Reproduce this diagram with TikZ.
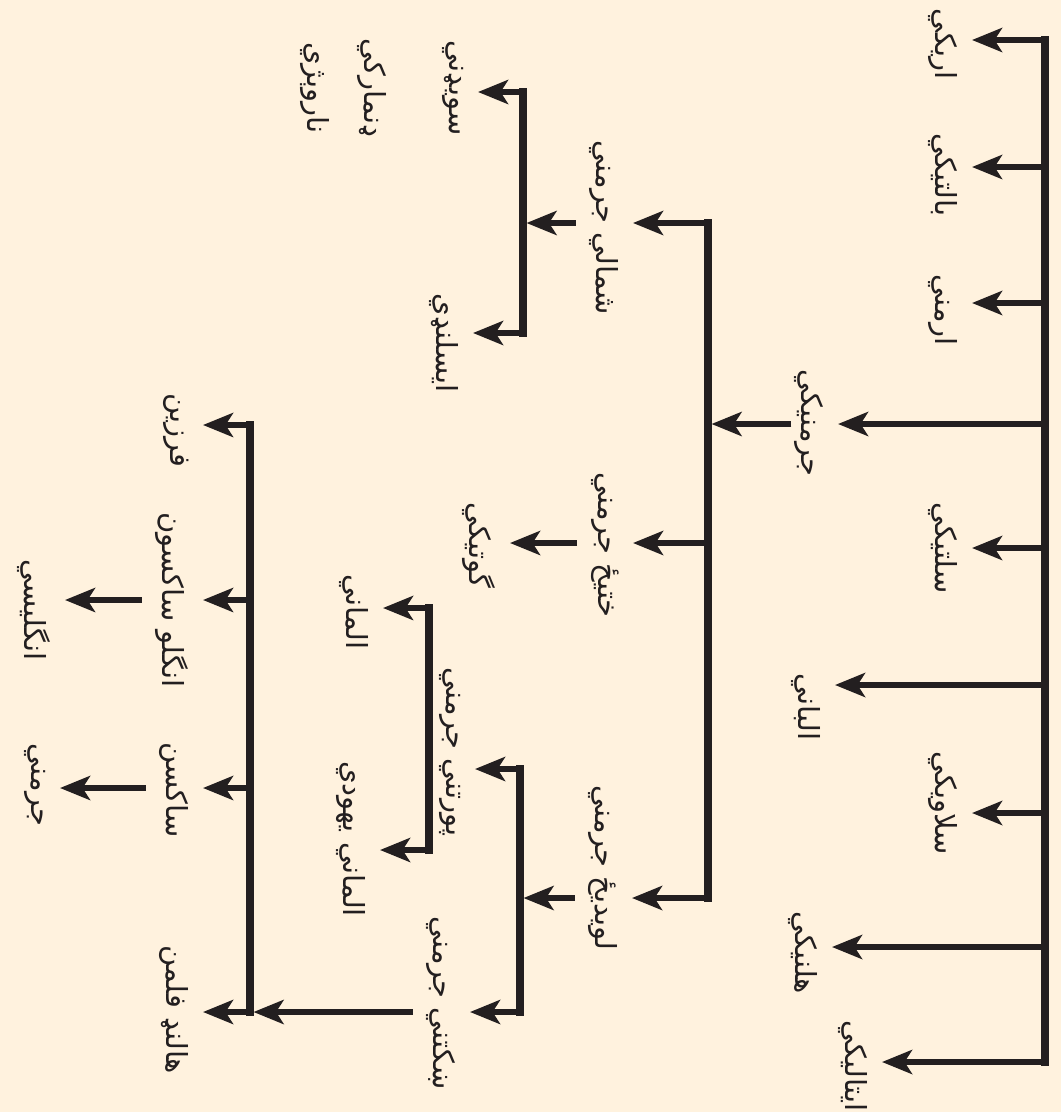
\documentclass[tikz,border=0pt]{standalone}
\usepackage{fontspec}
\usetikzlibrary{arrows.meta}
\newfontfamily\pashto[Script=Arabic]{DejaVu Sans}
\TeXXeTstate=1
\newcommand{\pst}[1]{\beginR #1\endR}
\definecolor{paper}{HTML}{FFF2DE}
\definecolor{ink}{HTML}{231F20}
\tikzset{
  lbl/.style={rotate=-90, anchor=north, inner sep=0pt, outer sep=8pt, text=ink, font=\pashto\fontsize{16.5}{19}\selectfont},
  trunk/.style={draw=ink, line width=4.8pt, line cap=rect},
  arr/.style={draw=ink, line width=3.3pt, -{Stealth[length=6mm,width=4.8mm,inset=1.5mm]}},
}

\begin{document}
\begin{tikzpicture}[x=0.02cm, y=-0.02cm]
\fill[paper] (0,0) rectangle (1061,1112);
\useasboundingbox (0,0) rectangle (1061,1112);

% root trunk
\coordinate (t1a) at (1045,40);
\coordinate (t1b) at (1045,1062);
\draw[trunk] (t1a) -- (t1b);
\foreach \nm/\y/\t/\c/\txt in {arik/40/972/44/اریکي, balt/167/972/175/بالتیکي,
    arm/303/972/310/ارمني, germ/424/838/423/جرمنیکي, celt/548/972/548/سلتیکي,
    alb/685/835/707/الباني, slav/813/972/803/سلاویکي, hell/947/832/953/هلنیکي,
    ital/1062/882/1066/ایتالیکي}{
  \coordinate (j\nm) at (1045,\y);
  \node[lbl] (\nm) at (\t,\c) {\pst{\txt}};
  \draw[arr] (j\nm) -- (j\nm -| \nm.north);
}

% germanic
\coordinate (t2a) at (708,223);
\coordinate (t2b) at (708,898);
\draw[trunk] (t2a) -- (t2b);
\draw[arr, shorten >=2pt, shorten <=-6pt] (jgerm -| germ.south) -- (jgerm -| t2a);
\foreach \nm/\y/\t/\c/\txt in {nger/223/633/228/شمالي جرمني,
    eger/543/633/545/ختیځ جرمني, wger/898/632/868/لویدیځ جرمني}{
  \coordinate (j\nm) at (708,\y);
  \node[lbl] (\nm) at (\t,\c) {\pst{\txt}};
  \draw[arr] (j\nm) -- (j\nm -| \nm.north);
}

% north
\coordinate (t3a) at (523,92);
\coordinate (t3b) at (523,333);
\draw[trunk] (t3a) -- (t3b);
\draw[arr, shorten >=2pt] (jnger -| nger.south) -- (jnger -| t3a);
\foreach \nm/\y/\t/\c/\txt in {swed/92/478/88/سویډني, ice/333/473/343/ایسلنډي}{
  \coordinate (j\nm) at (523,\y);
  \node[lbl] (\nm) at (\t,\c) {\pst{\txt}};
  \draw[arr] (j\nm) -- (j\nm -| \nm.north);
}
\node[lbl] (dan) at ([xshift=-16pt]swed.south) {\pst{ډنمارکي}};
\node[lbl] (nor) at (dan.south) {\pst{ناروېژي}};

% east
\node[lbl] (goth) at (510,545) {\pst{گوتیکي}};
\draw[arr] (jeger -| eger.south) -- (jeger -| goth.north);

% west
\coordinate (t4a) at (520,769);
\coordinate (t4b) at (520,1012);
\draw[trunk] (t4a) -- (t4b);
\draw[arr, shorten >=2pt] (jwger -| wger.south) -- (jwger -| t4a);
\foreach \nm/\y/\t/\c/\txt in {hger/769/475/752/پورتني جرمني, lger/1012/470/1003/ښکتني جرمني}{
  \coordinate (j\nm) at (520,\y);
  \node[lbl] (\nm) at (\t,\c) {\pst{\txt}};
  \draw[arr] (j\nm) -- (j\nm -| \nm.north);
}

% high
\coordinate (t5a) at (429,608);
\coordinate (t5b) at (429,850);
\draw[trunk] (t5a) -- (t5b);
\foreach \nm/\y/\t/\c/\txt in {deu/608/383/612/الماني, yid/850/380/839/الماني یهودي}{
  \coordinate (j\nm) at (429,\y);
  \node[lbl] (\nm) at (\t,\c) {\pst{\txt}};
  \draw[arr] (j\nm) -- (j\nm -| \nm.north);
}

% low
\coordinate (t6a) at (250,425);
\coordinate (t6b) at (250,1012);
\draw[trunk] (t6a) -- (t6b);
\draw[arr, shorten >=2pt] (jlger -| lger.south) -- (jlger -| t6b);
\foreach \nm/\y/\t/\c/\txt in {fris/425/203/430/فرزین, angs/600/203/600/انگلو ساکسون,
    sax/788/203/790/ساکسن, dut/1012/203/1010/هالنډ فلمن}{
  \coordinate (j\nm) at (250,\y);
  \node[lbl] (\nm) at (\t,\c) {\pst{\txt}};
  \draw[arr] (j\nm) -- (j\nm -| \nm.north);
}
\node[lbl] (eng) at (65,610) {\pst{انگلیسي}};
\draw[arr] (jangs -| angs.south) -- (jangs -| eng.north);
\node[lbl] (ger) at (60,785) {\pst{جرمني}};
\draw[arr] (jsax -| sax.south) -- (jsax -| ger.north);
\end{tikzpicture}
\end{document}
